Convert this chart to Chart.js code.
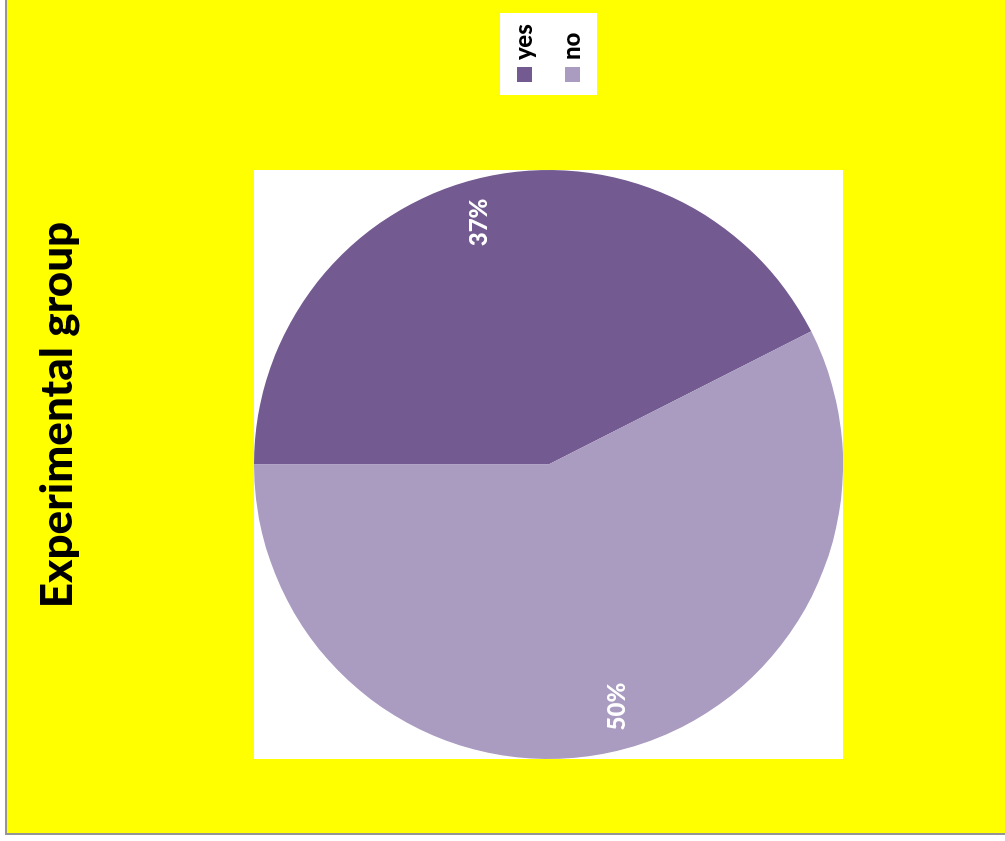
<!DOCTYPE html>
<html>
<head>
<meta charset="utf-8">
<title>Experimental group</title>
<script src="https://cdn.jsdelivr.net/npm/chart.js@4.4.1/dist/chart.umd.min.js"></script>
<style>
  html, body { margin: 0; padding: 0; background: #ffffff; overflow: hidden; }
  #marco {
    position: absolute; left: 5px; top: -10px; width: 1100px; height: 845px;
    box-sizing: border-box; border: 2px solid #959595; background: #ffff00;
  }
  /* the chart is laid out upright, then turned a quarter turn to the left */
  #grafico {
    position: absolute; left: 0; top: 0;
    transform-origin: 0 0;
    transform: translate(0px, 841px) rotate(-90deg);
  }
</style>
</head>
<body>
<div id="marco"></div>
<canvas id="grafico" width="841" height="1005"></canvas>
<script>
const titulo = 'Experimental group';
const categorias = ['yes', 'no'];
const valores = [37, 50];
const colores = ['#735b91', '#aa9bc0'];

const fuente = 'Lato, "Open Sans", sans-serif';

// white plot square behind the pie
const fondoArea = {
    id: 'fondoArea',
    beforeDraw(chart) {
        const {ctx, chartArea: a} = chart;
        ctx.save();
        ctx.fillStyle = '#ffffff';
        ctx.fillRect(a.left, a.top, a.right - a.left, a.bottom - a.top);
        ctx.restore();
    }
};

// value labels inside each slice, near the outer edge
const etiquetas = {
    id: 'etiquetas',
    afterDatasetsDraw(chart) {
        const ctx = chart.ctx;
        const meta = chart.getDatasetMeta(0);
        ctx.save();
        ctx.fillStyle = '#ffffff';
        ctx.font = '900 24px ' + fuente;
        ctx.textAlign = 'center';
        ctx.textBaseline = 'middle';
        meta.data.forEach((arco, i) => {
            const p = arco.getProps(['x', 'y', 'startAngle', 'endAngle', 'outerRadius'], true);
            // a little before the middle of the slice
            const ang = (p.startAngle + p.endAngle) / 2 - 2.5 * Math.PI / 180;
            const r = p.outerRadius * 0.855;
            ctx.fillText(valores[i] + '%', p.x + Math.cos(ang) * r, p.y + Math.sin(ang) * r);
        });
        ctx.restore();
    }
};

// title on top and boxed legend on the right
const tituloLeyenda = {
    id: 'tituloLeyenda',
    afterDraw(chart) {
        const ctx = chart.ctx;
        ctx.save();
        ctx.fillStyle = '#000000';
        ctx.font = '900 44px ' + fuente;
        ctx.textAlign = 'center';
        ctx.textBaseline = 'alphabetic';
        ctx.fillText(titulo, 426, 72);

        ctx.fillStyle = '#ffffff';
        ctx.fillRect(746, 500, 82, 97);
        ctx.font = '900 24px ' + fuente;
        ctx.textAlign = 'left';
        categorias.forEach((c, i) => {
            const y = 517 + i * 48;
            ctx.fillStyle = colores[i];
            ctx.fillRect(759, y, 15, 15);
            ctx.fillStyle = '#000000';
            ctx.fillText(c, 781, y + 15);
        });
        ctx.restore();
    }
};

const ctx = document.getElementById('grafico').getContext('2d');
const grafico = new Chart(ctx, {
    type: 'pie',
    data: {
        labels: categorias,
        datasets: [{
            data: valores,
            backgroundColor: colores,
            borderWidth: 0
        }]
    },
    options: {
        responsive: false,
        animation: false,
        events: [],
        layout: {
            padding: { top: 254, bottom: 162, left: 82, right: 170 }
        },
        plugins: {
            legend: { display: false },
            title: { display: false },
            tooltip: { enabled: false }
        }
    },
    plugins: [fondoArea, etiquetas, tituloLeyenda]
});
</script>
</body>
</html>
